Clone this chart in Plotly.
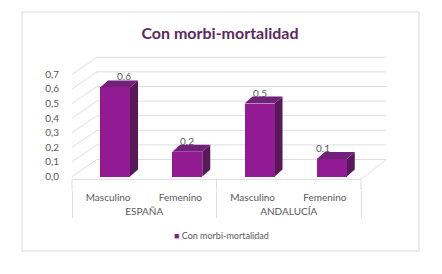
import plotly.graph_objects as go

# ---- data ----
regions = ["ESPAÑA", "ESPAÑA", "ANDALUCÍA", "ANDALUCÍA"]
sexes = ["Masculino", "Femenino", "Masculino", "Femenino"]
values = [0.61, 0.17, 0.50, 0.12]
series_name = "Con morbi-mortalidad"
title_text = "Con morbi-mortalidad"
y_ticks = [0.0, 0.1, 0.2, 0.3, 0.4, 0.5, 0.6, 0.7]

# ---- geometry / style (page body has an 8px margin, compensate) ----
OFF = 8
W, H = 442, 274
L = 72 - OFF
PLOT_W = 289
R = W - L - PLOT_W
Y0_PX = 176.5 - OFF           # pixel of value 0
TOP_PX = 52 - OFF
BOT_PX = 190 - OFF            # bottom of plot area (x-axis line)
PX_PER_UNIT = 146.0
T, B = TOP_PX, H - BOT_PX
YMAX = (Y0_PX - TOP_PX) / PX_PER_UNIT
YMIN = -(BOT_PX - Y0_PX) / PX_PER_UNIT
PH = BOT_PX - TOP_PX

def py(px):  # ref pixel y -> paper y
    return (BOT_PX - (px - OFF)) / PH

def pxx(px):  # ref pixel x -> paper x
    return (px - OFF - L) / PLOT_W

BAR_W = 0.415
BAR_OFF = -0.112
DEPTH_X, DEPTH_Y = 8, 7       # bar depth in px
WALL_X, WALL_Y = 25, 17       # wall depth in px

front = "#921a93"
side = "#58195b"
topc = "#73207a"
grid = "#dedede"
txt = "#595959"

fig = go.Figure()
fig.add_trace(go.Bar(
    x=[regions, sexes], y=values, name=series_name,
    width=BAR_W, offset=BAR_OFF, showlegend=False,
    marker=dict(color=front, line=dict(width=0)),
))
fig.add_trace(go.Scatter(
    x=[[regions[0]], [sexes[0]]], y=[None], mode="markers",
    marker=dict(color="rgba(0,0,0,0)", size=1),
    name=f"<span style='color:{front}'>■</span> {series_name}",
    showlegend=True, hoverinfo="skip",
))

shapes = []
dxw = WALL_X / PLOT_W
dyw = WALL_Y / PX_PER_UNIT
for v in y_ticks:
    shapes.append(dict(type="line", xref="x domain", yref="y", x0=0, y0=v, x1=dxw, y1=v + dyw,
                       line=dict(color=grid, width=1), layer="below"))
    shapes.append(dict(type="line", xref="x domain", yref="y", x0=dxw, y0=v + dyw, x1=1 + dxw, y1=v + dyw,
                       line=dict(color=grid, width=1), layer="below"))
FRONT_Y = -0.02
shapes.append(dict(type="line", xref="x domain", yref="y", x0=1, y0=FRONT_Y, x1=1 + dxw, y1=dyw,
                   line=dict(color=grid, width=1), layer="below"))
shapes.append(dict(type="line", xref="x domain", yref="y", x0=0, y0=FRONT_Y, x1=1, y1=FRONT_Y,
                   line=dict(color=grid, width=1), layer="below"))
for xd in (0, 0.5, 1):
    shapes.append(dict(type="line", xref="x domain", yref="y", x0=xd, y0=FRONT_Y, x1=xd, y1=YMIN,
                       line=dict(color=grid, width=1), layer="below"))

dxb = DEPTH_X / PLOT_W
dyb = DEPTH_Y / PX_PER_UNIT
n = len(values)
annotations = []
for i, v in enumerate(values):
    xl = (i + 0.5 + BAR_OFF) / n
    xr = (i + 0.5 + BAR_OFF + BAR_W) / n
    side_path = f"M{xr},0 L{xr + dxb},{dyb} L{xr + dxb},{v + dyb} L{xr},{v} Z"
    top_path = f"M{xl},{v} L{xr},{v} L{xr + dxb},{v + dyb} L{xl + dxb},{v + dyb} Z"
    shapes.append(dict(type="path", xref="x domain", yref="y", path=side_path,
                       fillcolor=side, line=dict(width=0), layer="below"))
    shapes.append(dict(type="path", xref="x domain", yref="y", path=top_path,
                       fillcolor=topc, line=dict(width=0), layer="below"))
    annotations.append(dict(xref="x domain", yref="y", x=(xl + xr) / 2, y=v,
                            text=f"{v:.1f}", showarrow=False, yanchor="middle", yshift=11,
                            font=dict(size=10, color=txt)))

shapes.append(dict(type="rect", xref="paper", yref="paper",
                   x0=pxx(22), x1=pxx(419), y0=py(251), y1=py(12),
                   line=dict(color="#d9d9d9", width=1), layer="below"))

fig.update_layout(
    width=W, height=H,
    margin=dict(l=L, r=R, t=T, b=B, autoexpand=False),
    paper_bgcolor="white", plot_bgcolor="rgba(0,0,0,0)",
    separators=", ",
    font=dict(family="Lato", size=10, color=txt),
    title=dict(text=f"<b>{title_text}</b>", x=(220 - OFF) / W, xref="container", xanchor="center",
               y=1 - (33 - OFF) / H, yref="container", yanchor="middle",
               font=dict(family="Lato", size=16, color="#5b2a5e")),
    shapes=shapes,
    annotations=annotations,
    showlegend=True,
    legend=dict(orientation="h", x=pxx(134), xanchor="left",
                y=py(235), yanchor="middle",
                font=dict(size=9, color=txt), bgcolor="rgba(0,0,0,0)"),
    bargap=0,
)
fig.update_xaxes(type="multicategory", showline=False,
                 showgrid=False, zeroline=False, showdividers=True, dividercolor=grid,
                 dividerwidth=1, automargin=False, tickfont=dict(size=10, color=txt))
fig.update_yaxes(range=[YMIN, YMAX], tickvals=y_ticks, tickformat=".1f", showgrid=False,
                 zeroline=False, showline=False, ticks="outside", ticklen=10,
                 tickcolor="rgba(0,0,0,0)", automargin=False,
                 tickfont=dict(size=10, color=txt))

fig.write_html("out.html")
